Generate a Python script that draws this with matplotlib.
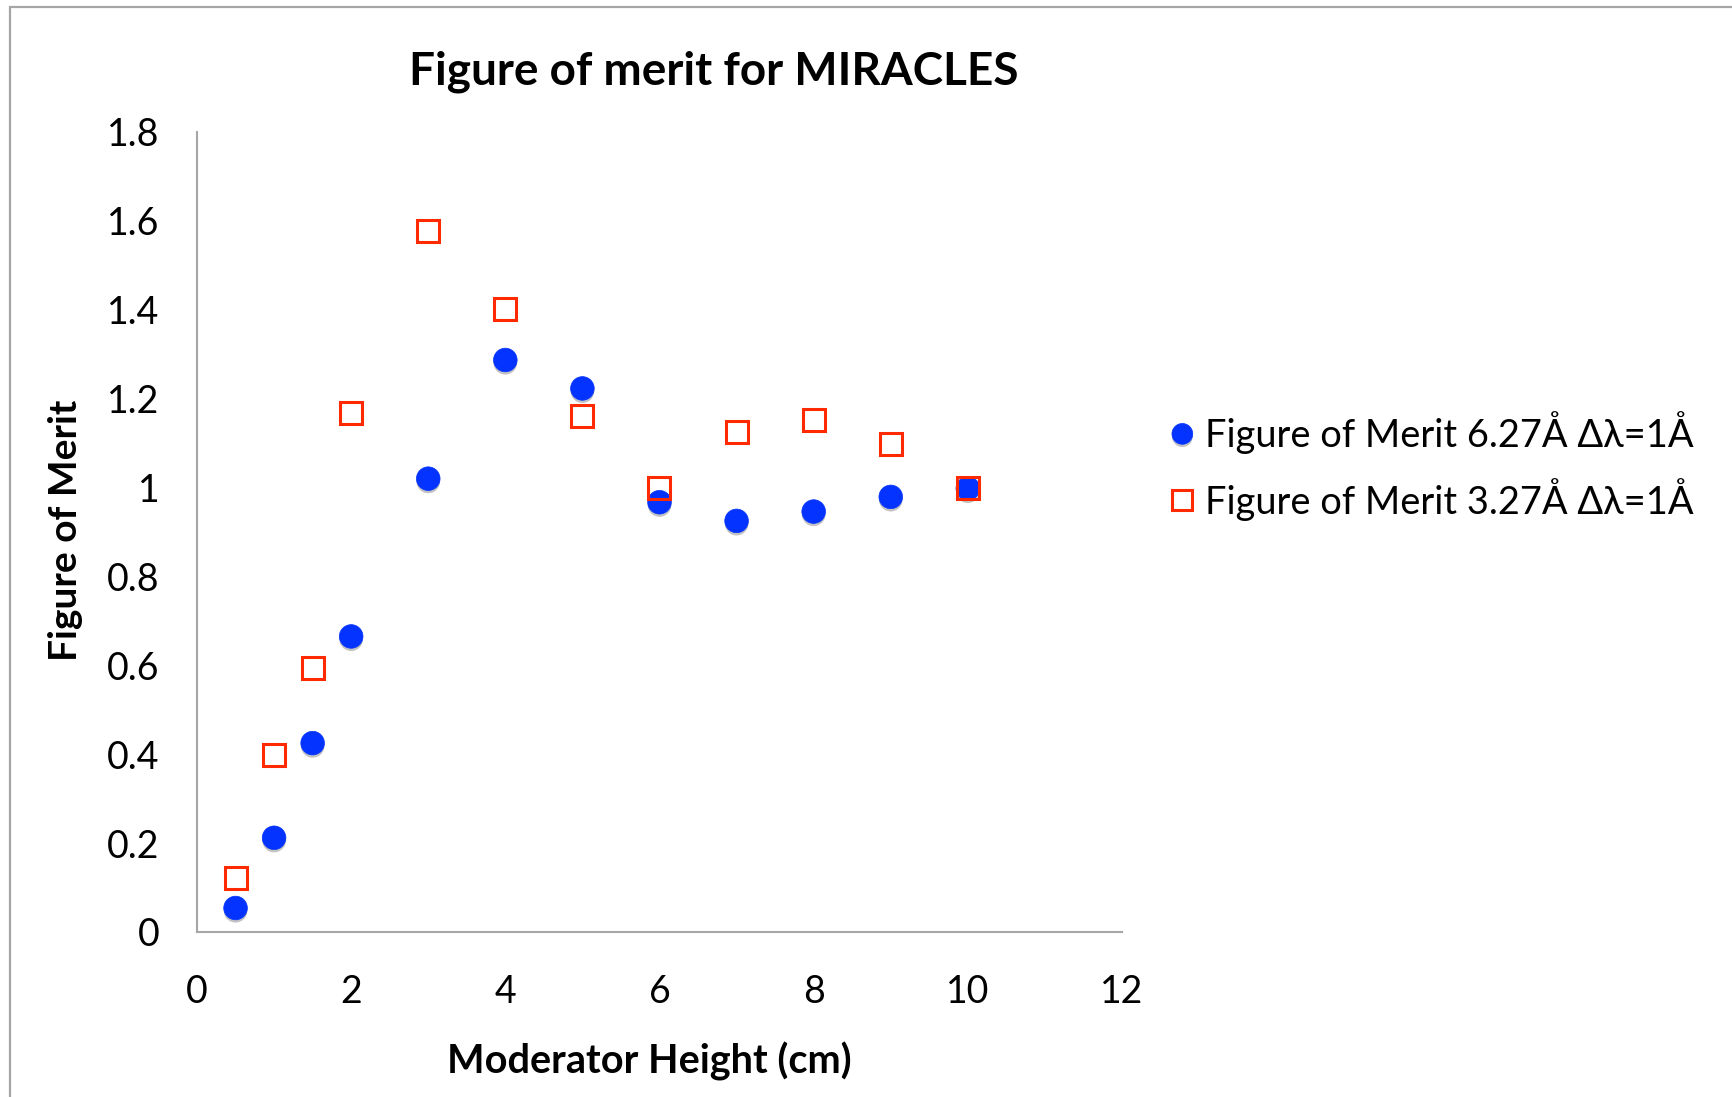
import matplotlib
matplotlib.use('Agg')
import matplotlib.pyplot as plt
import matplotlib.patheffects as pe
from matplotlib.patches import Rectangle

# Data
heights = [0.5, 1, 1.5, 2, 3, 4, 5, 6, 7, 8, 9, 10]
fom_627 = [0.054, 0.212, 0.425, 0.665, 1.02, 1.287, 1.223, 0.967, 0.925, 0.946, 0.979, 0.998]
fom_327 = [0.122, 0.398, 0.595, 1.167, 1.577, 1.401, 1.162, 0.999, 1.126, 1.152, 1.098, 0.999]

x_ticks = [0, 2, 4, 6, 8, 10, 12]
y_ticks = [0, 0.2, 0.4, 0.6, 0.8, 1, 1.2, 1.4, 1.6, 1.8]
y_ticklabels = ['0', '0.2', '0.4', '0.6', '0.8', '1', '1.2', '1.4', '1.6', '1.8']

plt.rcParams['font.family'] = ['Lato', 'DejaVu Sans']

W, H = 1733, 1097
fig = plt.figure(figsize=(W / 100, H / 100), dpi=100)

# outer chart frame
fig.patches.append(Rectangle((10 / W, -0.2), 1.2, 1.2 - 7 / H, transform=fig.transFigure,
                             fill=False, edgecolor='#A6A6A6', linewidth=1.6))

ax = fig.add_axes([197 / W, 1 - 932 / H, (1122 - 197) / W, (932 - 132) / H])

shadow = [pe.SimplePatchShadow(offset=(0, -2), shadow_rgbFace='#888888', alpha=0.5), pe.Normal()]

ax.plot(heights, fom_627, linestyle='none', marker='o', markersize=17,
        markerfacecolor='#0433FF', markeredgecolor='#0433FF', markeredgewidth=0.5,
        label='Figure of Merit 6.27Å Δλ=1Å', path_effects=shadow)
ax.plot(heights, fom_327, linestyle='none', marker='s', markersize=16,
        markerfacecolor='none', markeredgecolor='#FF2A00', markeredgewidth=2.2,
        label='Figure of Merit 3.27Å Δλ=1Å')

ax.set_xlim(0, 12)
ax.set_ylim(0, 1.8)
ax.set_xticks(x_ticks)
ax.set_yticks(y_ticks)
ax.set_yticklabels(y_ticklabels)
ax.tick_params(length=0, labelsize=27)
ax.tick_params(axis='y', pad=27)
ax.tick_params(axis='x', pad=30)

for side in ['top', 'right']:
    ax.spines[side].set_visible(False)
for side in ['left', 'bottom']:
    ax.spines[side].set_color('#A6A6A6')
    ax.spines[side].set_linewidth(1.5)

fig.text(714 / W, 1 - 72 / H, 'Figure of merit for MIRACLES', ha='center', va='center',
         fontsize=33, fontweight='bold')
fig.text(649 / W, 1 - 1061 / H, 'Moderator Height (cm)', ha='center', va='center',
         fontsize=28.5, fontweight='bold')
fig.text(66 / W, 1 - 530 / H, 'Figure of Merit', ha='center', va='center',
         fontsize=28, fontweight='bold', rotation=90)

ax.legend(loc='center left', bbox_to_anchor=(1150 / W, 1 - 466 / H),
          bbox_transform=fig.transFigure, frameon=False, fontsize=27.4,
          handlelength=0.7, handletextpad=0.25, labelspacing=0.62, borderpad=0,
          markerscale=0.88)

fig.savefig('out.png', dpi=100)
